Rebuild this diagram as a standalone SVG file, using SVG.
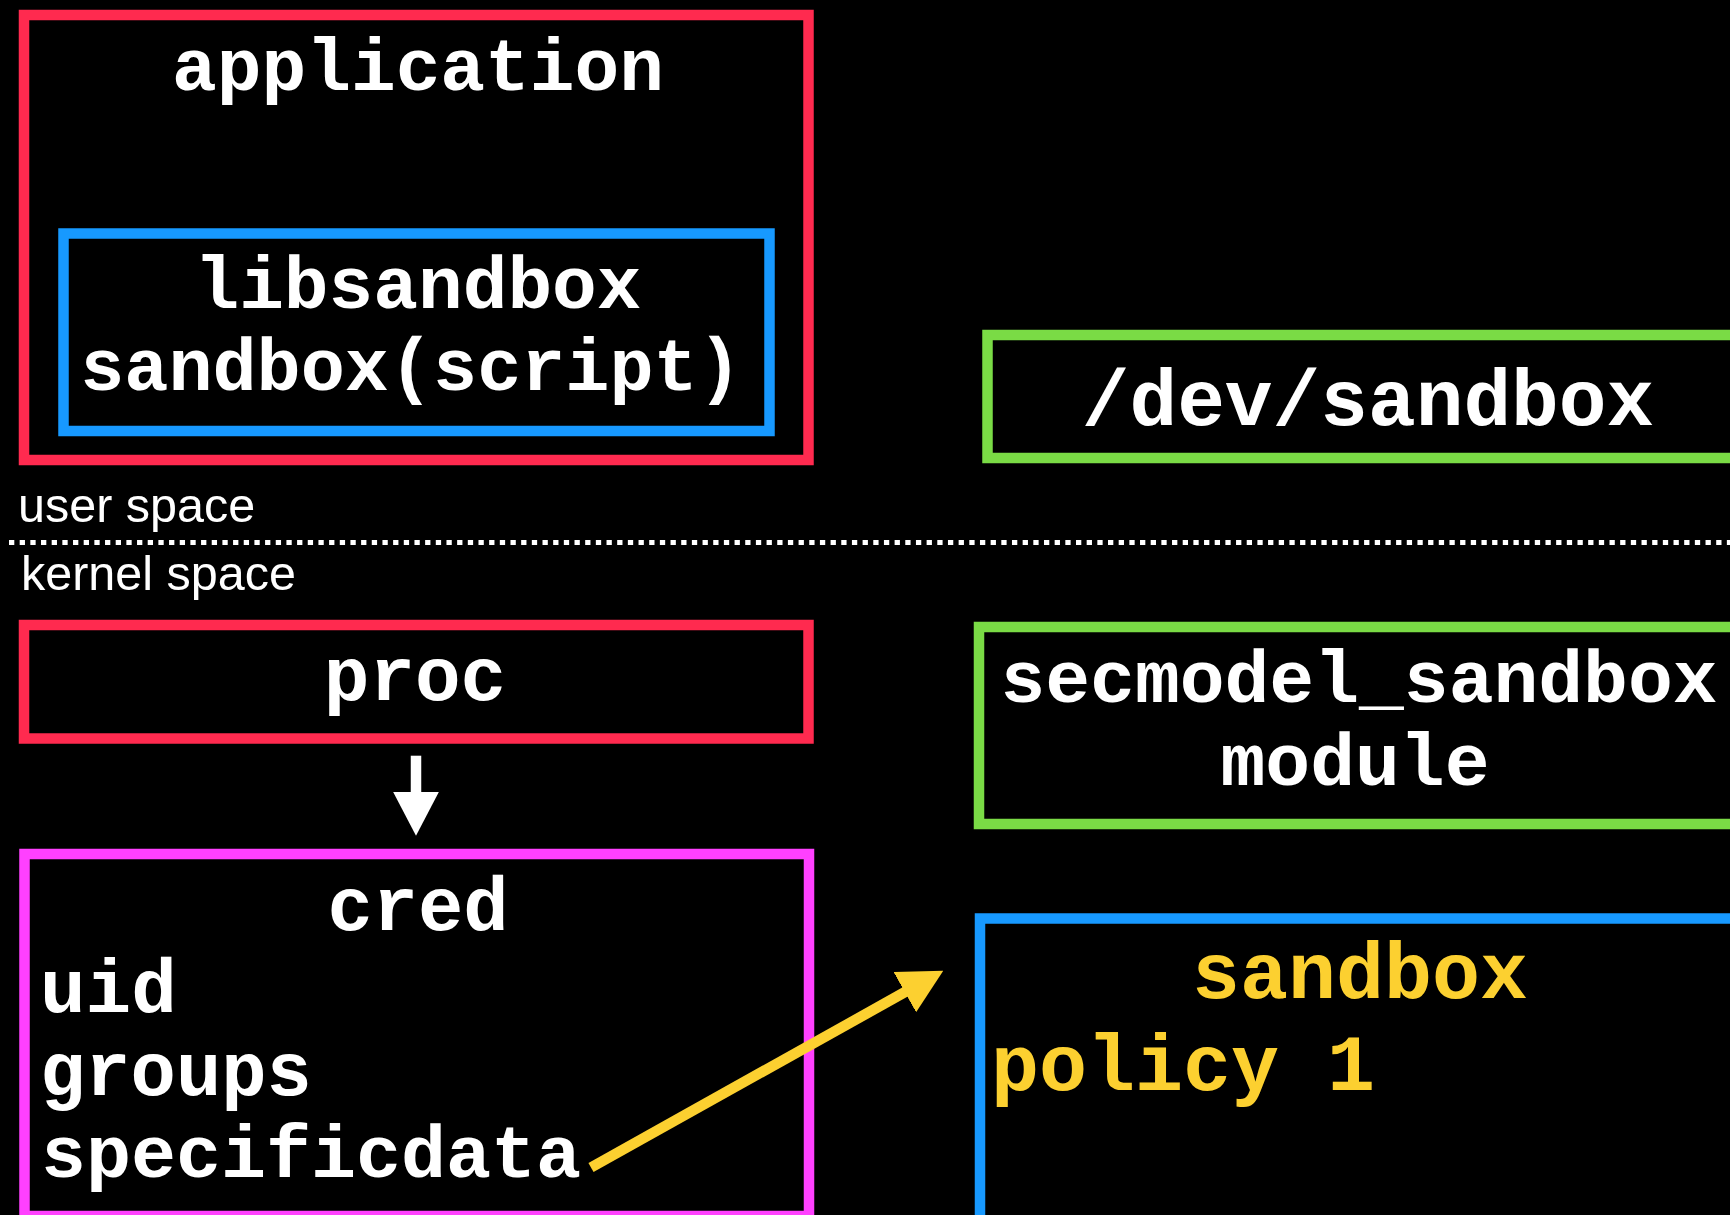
<svg xmlns="http://www.w3.org/2000/svg" width="1730" height="1215" viewBox="0 0 1730 1215">
  <style>
    .box { fill: none; stroke-width: 10.5; }
    .red { stroke: #FF2A4F; }
    .blue { stroke: #1799FF; }
    .green { stroke: #7ADB45; }
    .magenta { stroke: #FF40FF; }
    .mono { font-family: "Liberation Mono", "Courier New", monospace; font-weight: bold; fill: #FFFFFF; }
    .c { text-anchor: middle; }
    .gold { fill: #FCD030; }
    .sans { font-family: "Liberation Sans", Arial, Helvetica, sans-serif; font-size: 48.5px; fill: #FFFFFF; }
    .arrow { fill: none; stroke-width: 10.5; stroke-linecap: butt; }
  </style>
  <defs>
    <marker id="headWhite" markerUnits="userSpaceOnUse" markerWidth="44" markerHeight="46" viewBox="0 0 44 46" refX="2" refY="23" orient="auto">
      <path d="M0,0 L44,23 L0,46 Z" fill="#FFFFFF"/>
    </marker>
    <marker id="headGold" markerUnits="userSpaceOnUse" markerWidth="44" markerHeight="46" viewBox="0 0 44 46" refX="2" refY="23" orient="auto">
      <path d="M0,0 L44,23 L0,46 Z" fill="#FCD030"/>
    </marker>
  </defs>

  <rect x="0" y="0" width="1730" height="1215" fill="#000000"/>

  <!-- user space -->
  <g id="application">
    <rect class="box red" x="24" y="15" width="784.5" height="445"/>
    <text class="mono c" x="418" y="90" font-size="74.5">application</text>
  </g>
  <g id="libsandbox">
    <rect class="box blue" x="63.5" y="233.5" width="706" height="197.5"/>
    <text class="mono c" x="418" y="308" font-size="74.5">libsandbox</text>
    <text class="mono c" x="411" y="390" font-size="73.5">sandbox(script)</text>
  </g>
  <g id="dev-sandbox">
    <rect class="box green" x="987.5" y="335" width="800" height="123"/>
    <text class="mono c" x="1368" y="425" font-size="79.5">/dev/sandbox</text>
  </g>

  <!-- user / kernel boundary -->
  <g id="boundary">
    <text class="sans" x="18" y="522">user space</text>
    <line x1="9" y1="542.5" x2="1730" y2="542.5" stroke="#FFFFFF" stroke-width="5" stroke-dasharray="5.3 5.37"/>
    <text class="sans" x="21" y="590">kernel space</text>
  </g>

  <!-- kernel space -->
  <g id="proc">
    <rect class="box red" x="24" y="625" width="784.5" height="113.5"/>
    <text class="mono c" x="415" y="700" font-size="76">proc</text>
  </g>
  <g id="cred">
    <rect class="box magenta" x="24.5" y="854" width="784.5" height="362"/>
    <text class="mono c" x="418" y="930" font-size="75.5">cred</text>
    <text class="mono" x="40" y="1012" font-size="76">uid</text>
    <text class="mono" x="40" y="1095" font-size="75.5">groups</text>
    <text class="mono" x="41" y="1177" font-size="75">specificdata</text>
  </g>
  <g id="secmodel-sandbox">
    <rect class="box green" x="979" y="627" width="800" height="197"/>
    <text class="mono c" x="1359" y="702" font-size="74.7">secmodel_sandbox</text>
    <text class="mono c" x="1355" y="785" font-size="74.7">module</text>
  </g>
  <g id="sandbox-policy">
    <rect class="box blue" x="980" y="918.5" width="800" height="400"/>
    <text class="mono c gold" x="1360" y="998" font-size="80">sandbox</text>
    <text class="mono gold" x="991" y="1090" font-size="80">policy 1</text>
  </g>

  <g id="connectors">
    <line class="arrow" x1="416" y1="755.7" x2="416" y2="793.7" stroke="#FFFFFF" marker-end="url(#headWhite)"/>
    <line class="arrow" x1="591" y1="1167.5" x2="906.6" y2="991.2" stroke="#FCD030" marker-end="url(#headGold)"/>
  </g>
</svg>
